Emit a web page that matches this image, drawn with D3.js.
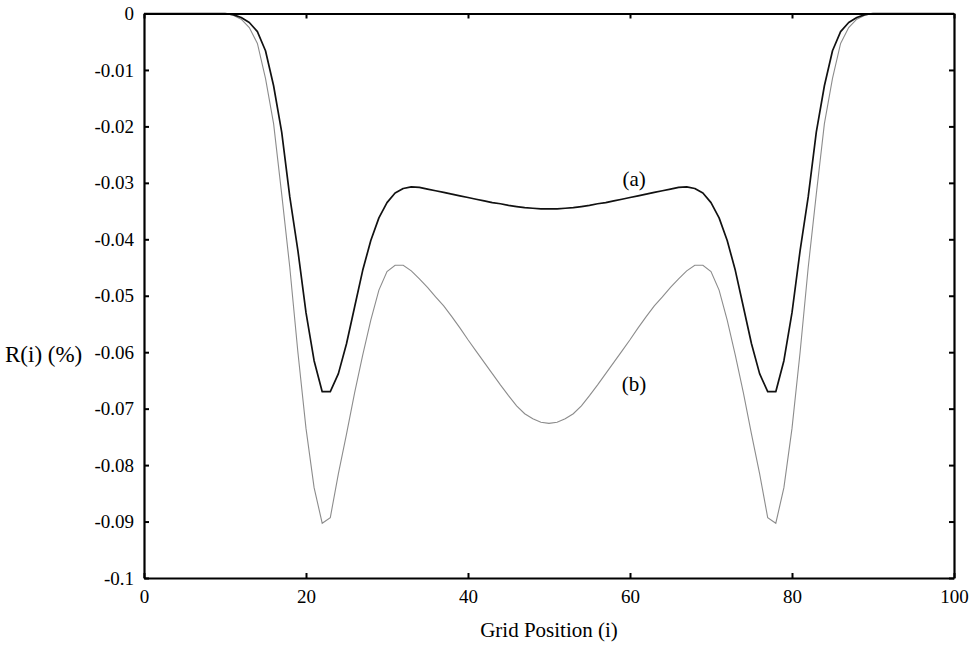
<!DOCTYPE html>
<html>
<head>
<meta charset="utf-8">
<script src="https://cdn.jsdelivr.net/npm/d3@7"></script>
<style>
  body { margin: 0; background: #fff; }
  svg { display: block; }
  svg text { font-family: "Liberation Serif", "Times New Roman", Times, serif; fill: #000; }
</style>
</head>
<body>
<svg id="chart" width="979" height="648"></svg>
<script>
// grid positions 0..100
const gridPos = d3.range(0, 101);

// curve (a), dark line
const seriesA = [
  0, 0, 0, 0, 0, 0, 0, 0, 0, 0,
  0, -0.0002, -0.0007, -0.0016, -0.0032, -0.0066, -0.0128, -0.0210, -0.0325, -0.0420,
  -0.0530, -0.0615, -0.0670, -0.0670, -0.0638, -0.0585, -0.0520, -0.0455, -0.0402, -0.0362,
  -0.0335, -0.0318, -0.0310, -0.0307, -0.0308, -0.0311, -0.0314, -0.0317, -0.0320, -0.0323,
  -0.0326, -0.0329, -0.0332, -0.0335, -0.0337, -0.0340, -0.0342, -0.0344, -0.0345, -0.0346,
  -0.0346,
  -0.0346, -0.0345, -0.0344, -0.0342, -0.0340, -0.0337, -0.0335, -0.0332, -0.0329, -0.0326,
  -0.0323, -0.0320, -0.0317, -0.0314, -0.0311, -0.0308, -0.0307, -0.0310, -0.0318, -0.0335,
  -0.0362, -0.0402, -0.0455, -0.0520, -0.0585, -0.0638, -0.0670, -0.0670, -0.0615, -0.0530,
  -0.0420, -0.0325, -0.0210, -0.0128, -0.0066, -0.0032, -0.0016, -0.0007, -0.0002, 0,
  0, 0, 0, 0, 0, 0, 0, 0, 0, 0
];

// curve (b), grey line
const seriesB = [
  0, 0, 0, 0, 0, 0, 0, 0, 0, 0,
  0, -0.0003, -0.0010, -0.0025, -0.0053, -0.0115, -0.0195, -0.0320, -0.0450, -0.0600,
  -0.0735, -0.0840, -0.0903, -0.0893, -0.0815, -0.0745, -0.0672, -0.0605, -0.0543, -0.0490,
  -0.0457, -0.0446, -0.0446, -0.0456, -0.0470, -0.0485, -0.0502, -0.0518, -0.0537, -0.0557,
  -0.0578, -0.0598, -0.0618, -0.0638, -0.0658, -0.0677, -0.0695, -0.0709, -0.0718, -0.0724,
  -0.0726,
  -0.0724, -0.0718, -0.0709, -0.0695, -0.0677, -0.0658, -0.0638, -0.0618, -0.0598, -0.0578,
  -0.0557, -0.0537, -0.0518, -0.0502, -0.0485, -0.0470, -0.0456, -0.0446, -0.0446, -0.0457,
  -0.0490, -0.0543, -0.0605, -0.0672, -0.0745, -0.0815, -0.0893, -0.0903, -0.0840, -0.0735,
  -0.0600, -0.0450, -0.0320, -0.0195, -0.0115, -0.0053, -0.0025, -0.0010, -0.0003, 0,
  0, 0, 0, 0, 0, 0, 0, 0, 0, 0
];

const xTicks = [0, 20, 40, 60, 80, 100];
const yTicks = [0, -0.01, -0.02, -0.03, -0.04, -0.05, -0.06, -0.07, -0.08, -0.09, -0.1];
const yTickLabels = ["0", "-0.01", "-0.02", "-0.03", "-0.04", "-0.05", "-0.06", "-0.07", "-0.08", "-0.09", "-0.1"];
const curveLabels = [
  { text: "(a)", x: 60.5, y: -0.0305 },
  { text: "(b)", x: 60.5, y: -0.0669 }
];

const serif = '"Liberation Serif", "Times New Roman", Times, serif';
const margin = { top: 13.5, right: 25, bottom: 70, left: 144 };
const width = 979, height = 648;

const svg = d3.select("#chart");

const x = d3.scaleLinear().domain([0, 100]).range([margin.left, width - margin.right]);
const y = d3.scaleLinear().domain([-0.1, 0]).range([578, margin.top]);

// curves
const line = d3.line().x((d, i) => x(gridPos[i])).y(d => y(d));

svg.append("path")
  .datum(seriesB)
  .attr("fill", "none")
  .attr("stroke", "#8c8c8c")
  .attr("stroke-width", 1.1)
  .attr("d", line);

svg.append("path")
  .datum(seriesA)
  .attr("fill", "none")
  .attr("stroke", "#111")
  .attr("stroke-width", 1.7)
  .attr("stroke-linejoin", "round")
  .attr("d", line);

// axes with inward ticks on all four sides
const tickLen = 5;
const axisB = svg.append("g").attr("transform", `translate(0,${y(-0.1)})`)
  .call(d3.axisBottom(x).tickValues(xTicks).tickSizeInner(-tickLen).tickSizeOuter(0).tickPadding(12));
const axisT = svg.append("g").attr("transform", `translate(0,${y(0)})`)
  .call(d3.axisTop(x).tickValues(xTicks).tickSizeInner(-tickLen).tickSizeOuter(0).tickFormat(""));
const axisL = svg.append("g").attr("transform", `translate(${x(0)},0)`)
  .call(d3.axisLeft(y).tickValues(yTicks).tickSizeInner(-tickLen).tickSizeOuter(0).tickPadding(10)
    .tickFormat((d, i) => yTickLabels[i]));
const axisR = svg.append("g").attr("transform", `translate(${x(100)},0)`)
  .call(d3.axisRight(y).tickValues(yTicks).tickSizeInner(-tickLen).tickSizeOuter(0).tickFormat(""));

[axisB, axisT, axisL, axisR].forEach(g => {
  g.attr("font-family", serif).attr("font-size", 19);
  g.select(".domain").attr("stroke", "#000").attr("stroke-width", 2.2);
  g.selectAll(".tick line").attr("stroke", "#000").attr("stroke-width", 2);
  g.selectAll(".tick text")
    .attr("fill", "#000")
    .style("font-family", serif)
    .style("font-size", "19px");
});

// curve labels
svg.selectAll(".curve-label")
  .data(curveLabels)
  .join("text")
  .attr("class", "curve-label")
  .attr("x", d => x(d.x))
  .attr("y", d => y(d.y))
  .attr("text-anchor", "middle")
  .style("font-family", serif)
  .style("font-size", "21px")
  .text(d => d.text);

// axis titles
svg.append("text")
  .attr("x", (x(0) + x(100)) / 2)
  .attr("y", 637)
  .attr("text-anchor", "middle")
  .style("font-family", serif)
  .style("font-size", "21px")
  .text("Grid Position (i)");

svg.append("text")
  .attr("x", 5)
  .attr("y", 362)
  .style("font-family", serif)
  .style("font-size", "23px")
  .text("R(i) (%)");
</script>
</body>
</html>
